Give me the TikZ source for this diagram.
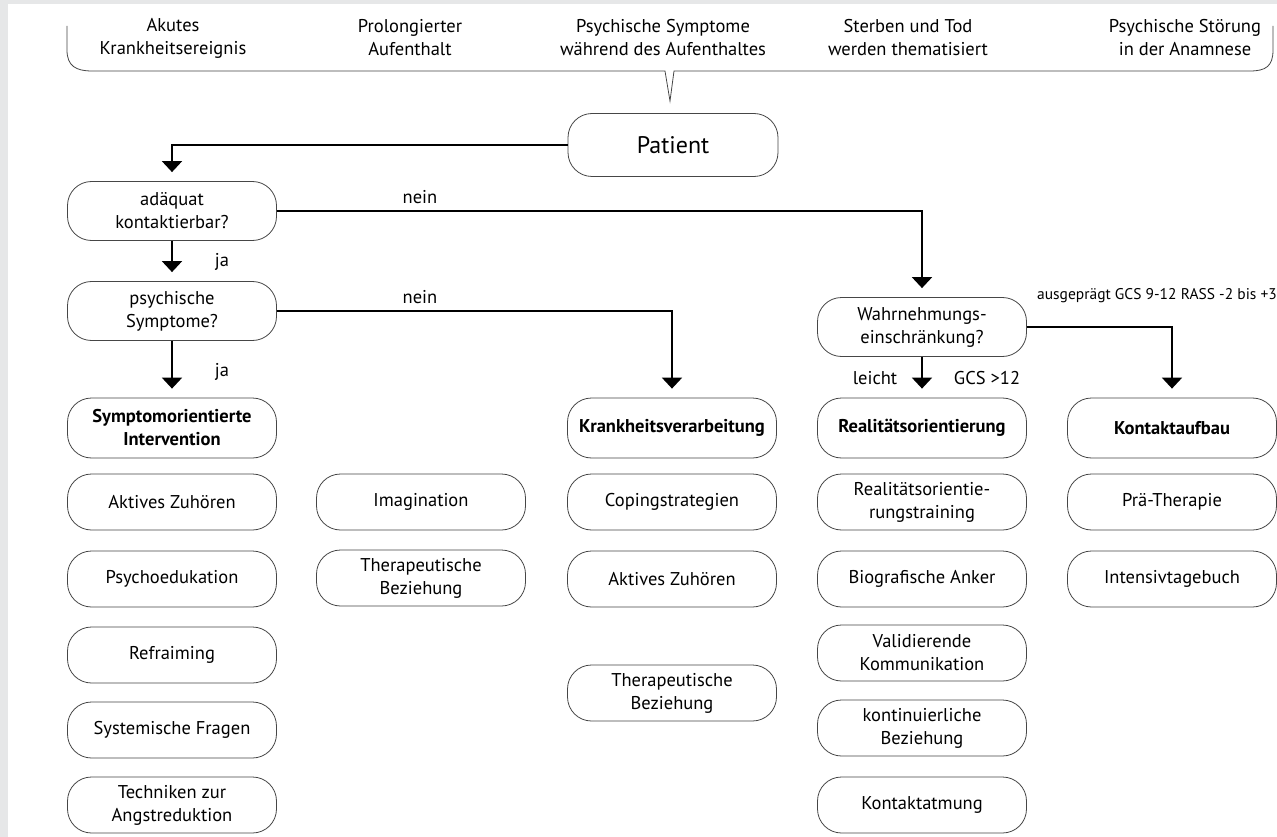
\documentclass[tikz,border=0pt]{standalone}
\usepackage{fontspec}
\setmainfont{PT Sans}
\usepackage{tikz}
\usetikzlibrary{arrows.meta}
\definecolor{pagegray}{RGB}{230,231,232}
\definecolor{boxline}{RGB}{70,70,70}

\begin{document}
\begin{tikzpicture}[x=1pt,y=-1pt,
  box/.style={draw=boxline, line width=0.8pt, rounded corners=24pt, minimum width=209pt, minimum height=56pt, inner sep=2pt, align=center, font=\fontsize{18.5}{23}\selectfont},
  headbox/.style={box, minimum height=60pt, font=\fontsize{18.5}{23}\selectfont\bfseries},
  askbox/.style={box, minimum height=59pt},
  flow/.style={line width=2pt, shorten >=9pt, -{Triangle[width=20pt,length=11pt]}},
  lbl/.style={font=\fontsize{18.5}{23}\selectfont},
  topic/.style={align=center, font=\fontsize{18.5}{23}\selectfont}]
\useasboundingbox (0,0) rectangle (1277,837);
\clip (0,0) rectangle (1277,837);
\fill[pagegray] (0,0) rectangle (1277,837);
\fill[white] (8,4) rectangle (1277,837);

% triggers along the top
\node[topic] (t1) at (173,38) {Akutes\\Krankheitsereignis};
\node[topic] (t2) at (410,38) {Prolongierter\\Aufenthalt};
\node[topic] (t3) at (663,38) {Psychische Symptome\\während des Aufenthaltes};
\node[topic] (t4) at (908,38) {Sterben und Tod\\werden thematisiert};
\node[topic] (t5) at (1185,38) {Psychische Störung\\in der Anamnese};
\draw[boxline, line width=0.8pt] (67,26) -- (67,50) .. controls (67,66) and (76,71) .. (92,71)
  -- (665,71) -- (670,101) -- (674,71) -- (1250,71)
  .. controls (1266,71) and (1273,66) .. (1273,50) -- (1273,26);

% start
\node[box, minimum width=210pt, minimum height=63pt, font=\fontsize{24}{28}\selectfont] (patient) at (673,145) {Patient};

% questions
\node[askbox] (ask) at (172,211) {adäquat\\kontaktierbar?};
\node[askbox] (psych) at (172,311) {psychische\\Symptome?};
\node[askbox] (perc) at (922,327) {Wahrnehmungs-\\einschränkung?};

% symptom oriented
\node[headbox] (sym) at (172,428) {Symptomorientierte\\Intervention};
\node[box] (s1) at (172,502) {Aktives Zuhören};
\node[box] (s2) at (172,579) {Psychoedukation};
\node[box] (s3) at (172,655) {Refraiming};
\node[box] (s4) at (172,730) {Systemische Fragen};
\node[box] (s5) at (172,805) {Techniken zur\\Angstreduktion};
\node[box] (s6) at (421,502) {Imagination};
\node[box] (s7) at (421,578) {Therapeutische\\Beziehung};

% coping
\node[headbox] (cope) at (672,428) {Krankheitsverarbeitung};
\node[box] (c1) at (672,502) {Copingstrategien};
\node[box] (c2) at (672,579) {Aktives Zuhören};
\node[box] (c3) at (672,693) {Therapeutische\\Beziehung};

% reality orientation
\node[headbox] (real) at (922,428) {Realitätsorientierung};
\node[box] (r1) at (922,502) {Realitätsorientie-\\rungstraining};
\node[box] (r2) at (922,579) {Biografische Anker};
\node[box] (r3) at (922,653) {Validierende\\Kommunikation};
\node[box] (r4) at (922,728) {kontinuierliche\\Beziehung};
\node[box] (r5) at (922,805) {Kontaktatmung};

% contact
\node[headbox] (contact) at (1172,428) {Kontaktaufbau};
\node[box] (k1) at (1172,502) {Prä-Therapie};
\node[box] (k2) at (1172,579) {Intensivtagebuch};

% arrows
\draw[flow] (patient.west) -| (ask.north);
\draw[flow] (ask.south) -- (psych.north);
\draw[flow] (psych.south) -- (sym.north);
\draw[flow] (ask.east) -| (perc.north);
\draw[flow] (psych.east) -| (cope.north);
\draw[flow] (perc.south) -- (real.north);
\draw[flow] (perc.east) -| (contact.north);

% arrow labels
\node[lbl] (ja1) at (222,262) {ja};
\node[lbl] (ja2) at (222,372) {ja};
\node[lbl] (nein1) at (420,197) {nein};
\node[lbl] (nein2) at (420,297) {nein};
\node[lbl] (mild) at (875,378) {leicht};
\node[lbl] (gcs) at (987,378) {GCS >12};
\node[font=\fontsize{15.5}{18}\selectfont] (severe) at (1157,296) {ausgeprägt GCS 9-12 RASS -2 bis +3};
\end{tikzpicture}
\end{document}
